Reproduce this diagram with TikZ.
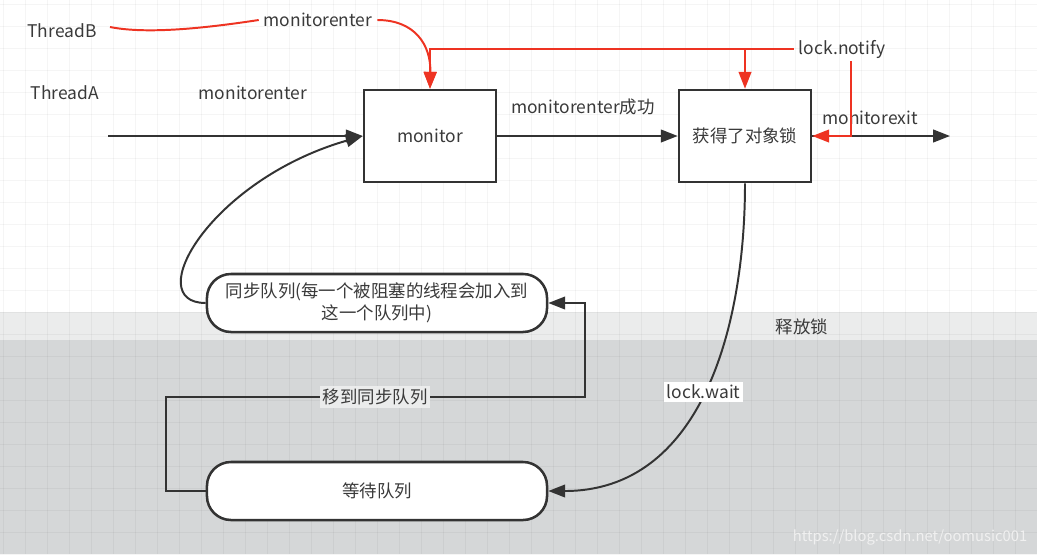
\documentclass[tikz,border=0pt]{standalone}
\usepackage{fontspec}
\setmainfont{Noto Sans CJK SC}
\usetikzlibrary{arrows.meta}
\definecolor{lineGray}{HTML}{333333}
\definecolor{textGray}{HTML}{3A3A3A}
\definecolor{notifyRed}{HTML}{EE3322}
\definecolor{bandGray}{HTML}{EBECEC}
\definecolor{lowGray}{HTML}{D5D7D8}
\begin{document}
\begin{tikzpicture}[x=0.025cm, y=-0.025cm,
        >={Triangle[length=12pt,width=9pt]},
        every node/.style={font=\fontsize{12.4}{16}\selectfont, text=textGray},
        box/.style={draw=lineGray, line width=1.8pt, fill=white, minimum width=3.3cm, minimum height=2.3cm},
        queue/.style={draw=lineGray, line width=1.8pt, fill=white, rounded corners=0.6cm, minimum width=8.5cm, minimum height=1.45cm, align=center},
        blk/.style={draw=lineGray, line width=1.4pt},
        notify/.style={draw=notifyRed, line width=1.4pt},
        gridline/.style={black, opacity=0.04, line width=0.5pt}]
        \useasboundingbox (0,0) rectangle (1037,554);
        % background and grid
        \fill[white] (0,0) rectangle (1037,312);
        \fill[bandGray] (0,312) rectangle (1037,340);
        \fill[lowGray] (0,340) rectangle (1037,554);
        \foreach \gx in {3,25,...,1037} \draw[gridline] (\gx,0) -- (\gx,554);
        \foreach \gy in {4,26,...,554} \draw[gridline] (0,\gy) -- (1037,\gy);

        % labels and boxes
        \node (threadB) at (62,31) {ThreadB};
        \node (threadA) at (65,93) {ThreadA};
        \node (enterA) at (253,93) {monitorenter};
        \node (enterB) at (318,20) {monitorenter};
        \node (notifyLbl) at (842,49) {lock.notify};
        \node (okLbl) at (583,107) {monitorenter成功};
        \node (exitLbl) at (870,118) {monitorexit};
        \node[box] (monitor) at (430,136) {monitor};
        \node[box] (lock) at (745,136) {获得了对象锁};
        \node[queue] (syncq) at (377,303) {同步队列(每一个被阻塞的线程会加入到\\这一个队列中)};
        \node[queue] (waitq) at (377,491) {等待队列};
        \node (release) at (802,327) {释放锁};
        \node[font=\fontsize{10.5}{12}\selectfont, text=white!94!black] (mark) at (910,537) {https://blog.csdn.net/oomusic001};

        \coordinate (aStart) at (108,136);
        \coordinate (bStart) at (110,27);
        \coordinate (exitEnd) at (950,136);
        \coordinate (nTop) at (851,61);

        % black connectors
        \draw[blk,->] (aStart) -- (monitor.west);
        \draw[blk,->] (monitor) -- (lock);
        \draw[blk,->] (lock.east) -- (exitEnd);
        \draw[blk,->] (syncq.west) .. controls (140,303) and (210,180) .. (monitor.west);
        \draw[blk,->] (lock.south) .. controls (745,330) and (700,491) .. (waitq.east)
            node[pos=0.5, fill=white, inner sep=2pt] (waitLbl) {lock.wait};
        \draw[blk,->] (waitq.west) -- ++(-40,0) -- ++(0,-94)
            -- node[fill=bandGray, inner sep=2pt] (moveLbl) {移到同步队列} ++(419,0) |- (syncq.east);

        % red connectors
        \draw[notify] (bStart) .. controls (145,34) and (200,29) .. (enterB.west);
        \draw[notify,->] (enterB.east) .. controls (415,20) and (431,45) .. (monitor.north);
        \draw[notify,->] (notifyLbl.west) -- (monitor.north |- notifyLbl.west) -- (monitor.north);
        \draw[notify,->] (lock.north |- notifyLbl.west) -- (lock.north);
        \draw[notify,->] (nTop) |- (lock.east);
    \end{tikzpicture}
\end{document}
